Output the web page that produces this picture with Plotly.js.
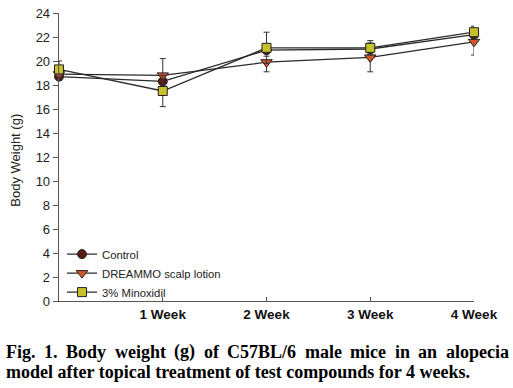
<!DOCTYPE html>
<html>
<head>
<meta charset="utf-8">
<script src="https://cdn.plot.ly/plotly-3.0.1.min.js"></script>
<style>html,body{margin:0;padding:0;background:#fff}#chart{width:513px;height:388px}</style>
</head>
<body>
<div id="chart"></div>
<script>
var weeks = [0, 1, 2, 3, 4];
var weekLabels = ['', '1 Week', '2 Week', '3 Week', '4 Week'];
var control = [18.7, 18.3, 20.9, 21.0, 22.2];
var controlErr = [0.3, 0.4, 0.5, 0.4, 0.4];
var dreammo = [18.9, 18.8, 19.9, 20.3, 21.6];
var dreammoErr = [0.4, 1.4, 0.8, 1.2, 1.1];
var minox = [19.3, 17.5, 21.1, 21.1, 22.4];
var minoxErr = [0.7, 1.3, 1.3, 0.6, 0.5];
var seriesNames = ['Control', 'DREAMMO scalp lotion', '3% Minoxidil'];
var yTicks = [0, 2, 4, 6, 8, 10, 12, 14, 16, 18, 20, 22, 24];
var yTitle = 'Body Weight (g)';
var captionLine1 = ['Fig.', '1.', 'Body', 'weight', '(g)', 'of', 'C57BL/6', 'male', 'mice', 'in', 'an', 'alopecia'];
var captionLine2 = 'model after topical treatment of test compounds for 4 weeks.';

function mk(name, y, err, symbol, fill, size) {
  return {
    x: weeks, y: y, name: name, type: 'scatter', mode: 'lines+markers',
    cliponaxis: false,
    line: {color: '#2a2a2a', width: 1.3},
    marker: {symbol: symbol, color: fill, size: size, line: {color: '#222', width: 1}},
    error_y: {type: 'data', array: err, visible: true, color: '#333', thickness: 1, width: 3}
  };
}
var traces = [
  mk(seriesNames[0], control, controlErr, 'circle', '#5a1c14', 9),
  mk(seriesNames[1], dreammo, dreammoErr, 'triangle-down', '#d2552c', 10),
  mk(seriesNames[2], minox, minoxErr, 'square', '#c8c22a', 9)
];

var L = 59, R = 474, T = 13, B = 301.5;
var W = R - L, H = B - T;
function px(x) { return (x - L) / W; }
function py(y) { return (B - y) / H; }

var annotations = [];
var capSize = 18;
var capFamily = 'Liberation Serif, Times New Roman, serif';
var capFont = {family: capFamily, size: capSize, color: '#000'};
// justify line 1 between x=5 and x=508 using measured word widths
var ctx = document.createElement('canvas').getContext('2d');
ctx.font = 'bold ' + capSize + 'px "Liberation Serif"';
var widths = captionLine1.map(function (w) { return ctx.measureText(w).width; });
var total = widths.reduce(function (a, b) { return a + b; }, 0);
var gap = (508 - 5 - total) / (captionLine1.length - 1);
var cx = 5;
captionLine1.forEach(function (w, i) {
  annotations.push({
    xref: 'paper', yref: 'paper', x: px(cx), y: py(352.5), xanchor: 'left', yanchor: 'middle',
    text: '<b>' + w + '</b>', showarrow: false, font: capFont, borderpad: 0
  });
  cx += widths[i] + gap;
});
annotations.push({
  xref: 'paper', yref: 'paper', x: px(5), y: py(372.5), xanchor: 'left', yanchor: 'middle',
  text: '<b>' + captionLine2 + '</b>', showarrow: false, font: capFont, borderpad: 0
});
annotations.push({
  xref: 'paper', yref: 'paper', x: px(16), y: py(161), xanchor: 'center', yanchor: 'middle',
  textangle: -90, text: yTitle, showarrow: false,
  font: {family: 'Arial, Liberation Sans, sans-serif', size: 13, color: '#222'}
});

var layout = {
  width: 513, height: 388,
  margin: {l: L, r: 513 - R, t: T, b: 388 - B, pad: 0},
  paper_bgcolor: '#fff', plot_bgcolor: '#fff',
  showlegend: true,
  legend: {x: px(62), y: py(240), xanchor: 'left', yanchor: 'top', bgcolor: 'rgba(0,0,0,0)',
    font: {family: 'Arial, Liberation Sans, sans-serif', size: 11.3, color: '#222'},
    tracegroupgap: 0, itemwidth: 30},
  xaxis: {range: [0, 4], tickvals: weeks, ticktext: weekLabels, showgrid: false, zeroline: false,
    showline: true, linecolor: '#555', linewidth: 1.3, ticks: 'inside', ticklen: 4, tickcolor: '#555',
    tickfont: {family: 'Arial, Liberation Sans, sans-serif', size: 13.5, color: '#111', weight: 'bold'}},
  yaxis: {range: [0, 24], tickvals: yTicks, showgrid: false, zeroline: false,
    showline: true, linecolor: '#555', linewidth: 1.3, ticks: 'outside', ticklen: 5, tickcolor: '#555',
    tickfont: {family: 'Arial, Liberation Sans, sans-serif', size: 13, color: '#222'}},
  annotations: annotations
};
Plotly.newPlot('chart', traces, layout, {displayModeBar: false, staticPlot: true});
</script>
</body>
</html>
